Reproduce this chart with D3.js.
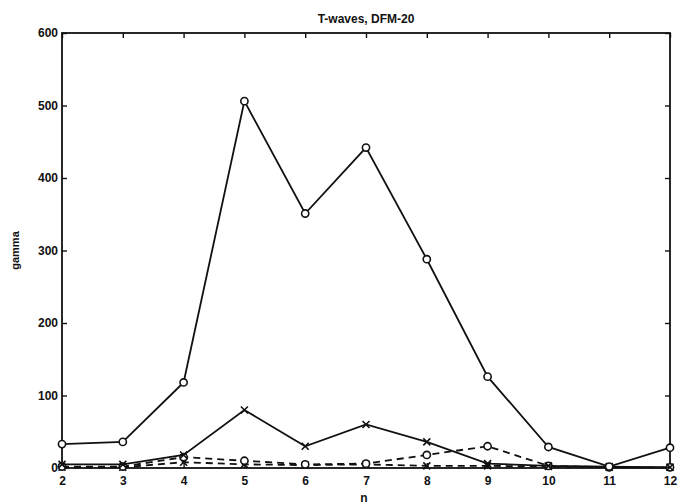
<!DOCTYPE html>
<head>
<meta charset="utf-8" />
<script src="https://d3js.org/d3.v7.min.js"></script>
<style>
  body { margin: 0; background: #fff; }
  text { font-family: "Liberation Sans", Arial, sans-serif; font-weight: bold; fill: #111; }
</style>
</head>
<body>
<svg width="688" height="504"></svg>
<script>
// values
let nValues = [2, 3, 4, 5, 6, 7, 8, 9, 10, 11, 12];
let solidCircle = [33, 36, 118, 506, 351, 442, 288, 126, 29, 2, 28];
let solidCross = [5, 5, 18, 80, 30, 60, 36, 6, 3, 2, 1];
let dashCircle = [2, 2, 15, 10, 5, 6, 18, 30, 3, 1, 1];
let dashCross = [1, 1, 8, 5, 4, 5, 3, 3, 2, 1, 1];
let yTicks = [0, 100, 200, 300, 400, 500, 600];

let svg = d3.select("svg");
let mLeft = 62, mRight = 670, mTop = 33, mBottom = 468;

let x = d3.scaleLinear().domain([2, 12]).range([mLeft, mRight]);
let y = d3.scaleLinear().domain([0, 600]).range([mBottom, mTop]);

let g = svg.append("g");

// box
g.append("rect").attr("x", mLeft).attr("y", mTop)
  .attr("width", mRight - mLeft).attr("height", mBottom - mTop)
  .attr("fill", "none").attr("stroke", "#111").attr("stroke-width", 1.8);

// axes with inward ticks (matlab style)
let xb = g.append("g").attr("transform", "translate(0," + mBottom + ")")
  .call(d3.axisBottom(x).tickValues(nValues).tickSize(-5).tickPadding(8).tickFormat(d3.format("d")));
let xt = g.append("g").attr("transform", "translate(0," + mTop + ")")
  .call(d3.axisTop(x).tickValues(nValues).tickSize(-5).tickFormat(""));
let yl = g.append("g").attr("transform", "translate(" + mLeft + ",0)")
  .call(d3.axisLeft(y).tickValues(yTicks).tickSize(-5).tickPadding(4));
let yr = g.append("g").attr("transform", "translate(" + mRight + ",0)")
  .call(d3.axisRight(y).tickValues(yTicks).tickSize(-5).tickFormat(""));

[xb, xt, yl, yr].forEach(a => {
  a.select(".domain").remove();
  a.selectAll("line").attr("stroke", "#111").attr("stroke-width", 1.4);
  a.selectAll("text").attr("font-size", 12).attr("font-family", "Liberation Sans, Arial, sans-serif")
    .attr("font-weight", "bold").attr("fill", "#111");
});

let line = d3.line().x((d, i) => x(nValues[i])).y(d => y(d));

function drawSeries(vals, dashed, marker) {
  g.append("path").attr("d", line(vals)).attr("fill", "none")
    .attr("stroke", "#111").attr("stroke-width", 1.8)
    .attr("stroke-dasharray", dashed ? "7,5" : null);
  vals.forEach((v, i) => {
    let cx = x(nValues[i]), cy = y(v);
    if (marker == "o") {
      g.append("circle").attr("cx", cx).attr("cy", cy).attr("r", 3.6)
        .attr("fill", "#fff").attr("stroke", "#111").attr("stroke-width", 1.6);
    } else {
      g.append("path").attr("d", "M" + (cx - 3.5) + "," + (cy - 3.5) + "L" + (cx + 3.5) + "," + (cy + 3.5)
        + "M" + (cx - 3.5) + "," + (cy + 3.5) + "L" + (cx + 3.5) + "," + (cy - 3.5))
        .attr("stroke", "#111").attr("stroke-width", 1.6);
    }
  });
}

drawSeries(dashCross, true, "x");
drawSeries(dashCircle, true, "o");
drawSeries(solidCross, false, "x");
drawSeries(solidCircle, false, "o");

// labels
svg.append("text").attr("x", (mLeft + mRight) / 2).attr("y", 23).attr("text-anchor", "middle")
  .attr("font-size", 12).text("T-waves, DFM-20");
svg.append("text").attr("x", (mLeft + mRight) / 2 - 2).attr("y", 502).attr("text-anchor", "middle")
  .attr("font-size", 12).text("n");
svg.append("text").attr("transform", "translate(19," + (mBottom + mTop) / 2 + ") rotate(-90)")
  .attr("text-anchor", "middle").attr("font-size", 11).text("gamma");
</script>
</body>
